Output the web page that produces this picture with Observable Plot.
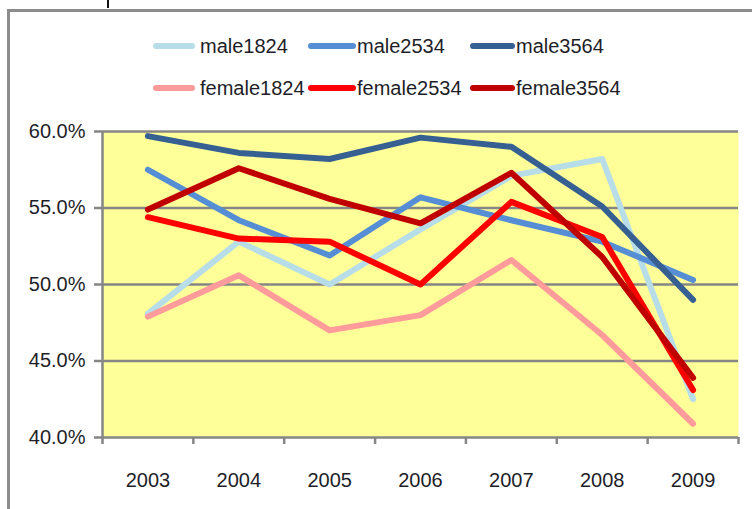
<!DOCTYPE html>
<html>
<head>
<meta charset="utf-8">
<script src="https://cdn.jsdelivr.net/npm/d3@7"></script>
<script src="https://cdn.jsdelivr.net/npm/@observablehq/plot@0.6"></script>
<style>
  html, body { margin: 0; padding: 0; background: #fff; }
  #wrap { position: relative; width: 752px; height: 509px; overflow: hidden; font-family: "Liberation Sans", Arial, sans-serif; }
  #frame { position: absolute; left: 7px; top: 9px; width: 760px; height: 520px; border-top: 3px solid #8c8c8c; border-left: 3px solid #8c8c8c; box-sizing: border-box; }
  #mark { position: absolute; left: 107px; top: 0; width: 2px; height: 8px; background: #111; }
  #chart { position: absolute; left: 0; top: 0; }
  .leg { position: absolute; font-size: 20px; color: #1e1e28; line-height: 20px; white-space: nowrap; }
  .sw { position: absolute; height: 6px; border-radius: 3px; }
</style>
</head>
<body>
<div id="wrap">
  <div id="frame"></div>
  <div id="mark"></div>
  <div id="chart"></div>
  <div id="legend"></div>
</div>
<script>
const years = [2003, 2004, 2005, 2006, 2007, 2008, 2009];
const seriesNames = ["male1824", "male2534", "male3564", "female1824", "female2534", "female3564"];
const seriesColors = ["#b7dde8", "#558ed5", "#376092", "#ff9b9b", "#ff0000", "#c00000"];
const male1824 = [48.1, 52.8, 50.0, 53.6, 57.1, 58.2, 42.5];
const male2534 = [57.5, 54.2, 51.9, 55.7, 54.2, 52.8, 50.3];
const male3564 = [59.7, 58.6, 58.2, 59.6, 59.0, 55.1, 49.0];
const female1824 = [47.9, 50.6, 47.0, 48.0, 51.6, 46.7, 40.9];
const female2534 = [54.4, 53.0, 52.8, 50.0, 55.4, 53.1, 43.1];
const female3564 = [54.9, 57.6, 55.6, 54.0, 57.3, 51.8, 43.9];
const yTicks = [40, 45, 50, 55, 60];

const seriesValues = [male1824, male2534, male3564, female1824, female2534, female3564];
const data = [];
seriesNames.forEach((name, i) => {
  years.forEach((yr, j) => data.push({series: name, year: yr, value: seriesValues[i][j]}));
});
const bounds = [years[0] - 0.5, ...years.map(y => y + 0.5)];
const grid = "#868686";

const chart = Plot.plot({
  width: 752,
  height: 509,
  marginLeft: 102,
  marginRight: 14,
  marginTop: 131,
  marginBottom: 72,
  style: {fontFamily: "Liberation Sans, Arial, sans-serif", fontSize: "20px", color: "#1e1e28", background: "transparent"},
  x: {domain: [bounds[0], bounds[bounds.length - 1]]},
  y: {domain: [40, 60]},
  color: {domain: seriesNames, range: seriesColors},
  marks: [
    Plot.frame({fill: "#ffff99", stroke: "none"}),
    Plot.ruleY(yTicks, {stroke: grid, strokeWidth: 2.5}),
    Plot.ruleX([bounds[0]], {stroke: grid, strokeWidth: 2.5}),
    Plot.axisY({ticks: yTicks, tickSize: 8, tickPadding: 9, tickFormat: d => d.toFixed(1) + "%", stroke: grid, strokeWidth: 2.5, strokeOpacity: 1, label: null, fontSize: 20}),
    Plot.axisX({ticks: bounds, tickSize: 7, tickFormat: () => "", stroke: grid, strokeWidth: 2.5, strokeOpacity: 1, label: null}),
    Plot.axisX({ticks: years, tickSize: 0, tickPadding: 35, tickFormat: d => String(d), label: null, fontSize: 20}),
    Plot.line(data, {x: "year", y: "value", z: "series", stroke: "series", strokeWidth: 6, strokeLinejoin: "round", strokeLinecap: "round"})
  ]
});
document.getElementById("chart").appendChild(chart);

// legend
const legendPos = [
  {sx: 153, sw: 42, tx: 200, y: 46},
  {sx: 308, sw: 48, tx: 357, y: 46},
  {sx: 470, sw: 45, tx: 516, y: 46},
  {sx: 153, sw: 42, tx: 200, y: 88},
  {sx: 308, sw: 48, tx: 357, y: 88},
  {sx: 470, sw: 45, tx: 516, y: 88}
];
const legend = document.getElementById("legend");
seriesNames.forEach((name, i) => {
  const p = legendPos[i];
  const sw = document.createElement("div");
  sw.className = "sw";
  sw.style.left = p.sx + "px";
  sw.style.width = p.sw + "px";
  sw.style.top = (p.y - 3) + "px";
  sw.style.background = seriesColors[i];
  legend.appendChild(sw);
  const t = document.createElement("div");
  t.className = "leg";
  t.style.left = p.tx + "px";
  t.style.top = (p.y - 10) + "px";
  t.textContent = name;
  legend.appendChild(t);
});
</script>
</body>
</html>
